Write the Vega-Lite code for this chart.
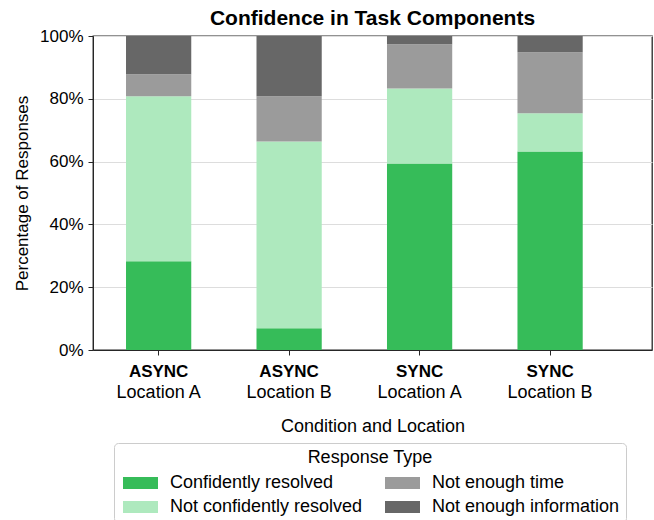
{
  "$schema": "https://vega.github.io/schema/vega-lite/v6.json",
  "autosize": {"type": "none"},
  "padding": {"left": 93, "top": 36, "right": 2, "bottom": 170},
  "width": 559,
  "height": 314,
  "background": "white",
  "title": {"text": "Confidence in Task Components", "fontSize": 21, "font": "Liberation Sans", "fontWeight": "bold", "color": "black", "offset": -2, "anchor": "middle"},
  "config": {
    "font": "Liberation Sans",
    "view": {"stroke": "#262626", "strokeWidth": 1.3},
    "axis": {"labelFont": "Liberation Sans", "titleFont": "Liberation Sans", "labelColor": "black", "titleColor": "black", "domainColor": "#262626", "tickColor": "#262626", "labelFontSize": 17, "titleFontSize": 17, "titleFontWeight": "normal"},
    "legend": {"labelFont": "Liberation Sans", "titleFont": "Liberation Sans", "labelColor": "black", "titleColor": "black"}
  },
  "data": {"values": [
    {"group": "ASYNC|Location A", "type": "Confidently resolved", "k": 1, "pct": 28.3},
    {"group": "ASYNC|Location A", "type": "Not confidently resolved", "k": 2, "pct": 52.5},
    {"group": "ASYNC|Location A", "type": "Not enough time", "k": 3, "pct": 7.0},
    {"group": "ASYNC|Location A", "type": "Not enough information", "k": 4, "pct": 12.2},
    {"group": "ASYNC|Location B", "type": "Confidently resolved", "k": 1, "pct": 6.9},
    {"group": "ASYNC|Location B", "type": "Not confidently resolved", "k": 2, "pct": 59.5},
    {"group": "ASYNC|Location B", "type": "Not enough time", "k": 3, "pct": 14.4},
    {"group": "ASYNC|Location B", "type": "Not enough information", "k": 4, "pct": 19.2},
    {"group": "SYNC|Location A", "type": "Confidently resolved", "k": 1, "pct": 59.4},
    {"group": "SYNC|Location A", "type": "Not confidently resolved", "k": 2, "pct": 23.9},
    {"group": "SYNC|Location A", "type": "Not enough time", "k": 3, "pct": 14.1},
    {"group": "SYNC|Location A", "type": "Not enough information", "k": 4, "pct": 2.6},
    {"group": "SYNC|Location B", "type": "Confidently resolved", "k": 1, "pct": 63.2},
    {"group": "SYNC|Location B", "type": "Not confidently resolved", "k": 2, "pct": 12.2},
    {"group": "SYNC|Location B", "type": "Not enough time", "k": 3, "pct": 19.4},
    {"group": "SYNC|Location B", "type": "Not enough information", "k": 4, "pct": 5.2}
  ]},
  "layer": [
    {
      "mark": {"type": "bar"},
      "encoding": {
        "x": {"field": "group", "type": "nominal", "sort": null,
          "scale": {"paddingInner": 0.5, "paddingOuter": 0.392, "align": 0.3227},
          "axis": {"orient": "bottom", "title": null, "labelAngle": 0, "labelFontWeight": "bold", "labelFontSize": 17, "labelExpr": "split(datum.value,'|')[0]", "tickSize": 5, "labelPadding": 8, "grid": false}},
        "y": {"field": "pct", "type": "quantitative", "stack": "zero",
          "scale": {"domain": [0, 100]},
          "axis": {"values": [0, 20, 40, 60, 80, 100], "labelExpr": "datum.value + '%'", "title": "Percentage of Responses", "grid": true, "gridColor": "#dddddd", "tickSize": 5, "labelPadding": 5, "titlePadding": 8}},
        "color": {"field": "type", "type": "nominal",
          "scale": {"domain": ["Confidently resolved", "Not confidently resolved", "Not enough time", "Not enough information"], "range": ["#36bc59", "#aee9be", "#9b9b9b", "#676767"]},
          "legend": {"orient": "none", "legendX": 21, "legendY": 407, "columns": 2, "title": "Response Type", "titleAnchor": "middle", "titleFontSize": 18, "titleFontWeight": "normal", "titlePadding": 7, "labelFontSize": 18, "labelLimit": 400, "symbolType": "M-1,-1H4.833V1H-1Z", "symbolSize": 144, "symbolStrokeWidth": 0, "symbolOpacity": 1, "labelOffset": 32, "strokeColor": "#cccccc", "fillColor": "white", "padding": 6, "cornerRadius": 4, "columnPadding": 19, "rowPadding": 6}},
        "order": {"field": "k", "type": "quantitative"}
      }
    },
    {
      "mark": {"type": "tick", "opacity": 0},
      "encoding": {
        "x": {"field": "group", "type": "nominal", "sort": null,
          "axis": {"orient": "bottom", "title": "Condition and Location", "titleFontSize": 18, "labelFontSize": 18, "labelAngle": 0, "labelExpr": "split(datum.value,'|')[1]", "domain": false, "ticks": false, "labelPadding": 33, "titlePadding": 16, "grid": false}}
      }
    }
  ],
  "resolve": {"axis": {"x": "independent"}}
}
